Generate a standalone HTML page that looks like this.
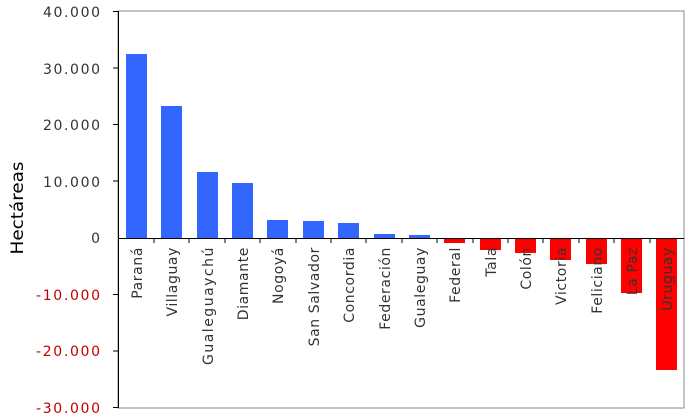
<!DOCTYPE html>
<html><head><meta charset="utf-8"><style>body{margin:0;background:#fff}</style></head><body>
<svg width="690" height="415" xmlns="http://www.w3.org/2000/svg" font-family="DejaVu Sans, sans-serif">
<rect x="118" y="11" width="566" height="397" fill="none" stroke="#888" stroke-width="1"/>
<line x1="118.5" y1="11" x2="118.5" y2="408" stroke="#000"/>
<g stroke="#000">
<line x1="113" y1="11.5" x2="118" y2="11.5"/><line x1="113" y1="68" x2="118" y2="68"/><line x1="113" y1="124.5" x2="118" y2="124.5"/><line x1="113" y1="181" x2="118" y2="181"/><line x1="113" y1="351" x2="118" y2="351"/><line x1="113" y1="294.5" x2="118" y2="294.5"/><line x1="113" y1="407.5" x2="118" y2="407.5"/>
</g>
<g font-size="14" text-anchor="end">
<text x="100" y="17" fill="#333" textLength="57" lengthAdjust="spacing">40.000</text>
<text x="100" y="74" fill="#333" textLength="57" lengthAdjust="spacing">30.000</text>
<text x="100" y="130" fill="#333" textLength="57" lengthAdjust="spacing">20.000</text>
<text x="100" y="187" fill="#333" textLength="57" lengthAdjust="spacing">10.000</text>
<text x="100" y="243" fill="#333">0</text>
<text x="100" y="300" fill="#c00000" textLength="64" lengthAdjust="spacing">-10.000</text>
<text x="100" y="356" fill="#c00000" textLength="64" lengthAdjust="spacing">-20.000</text>
<text x="100" y="413" fill="#c00000" textLength="64" lengthAdjust="spacing">-30.000</text>
</g>
<text transform="translate(23,208) rotate(-90)" font-size="17" text-anchor="middle" fill="#000" textLength="93" lengthAdjust="spacingAndGlyphs">Hectáreas</text>
<g fill="#3366ff">
<rect x="126" y="54" width="21" height="184"/>
<rect x="161" y="106" width="21" height="132"/>
<rect x="197" y="172" width="21" height="66"/>
<rect x="232" y="183" width="21" height="55"/>
<rect x="267" y="220" width="21" height="18"/>
<rect x="303" y="221" width="21" height="17"/>
<rect x="338" y="223" width="21" height="15"/>
<rect x="374" y="234" width="21" height="4"/>
<rect x="409" y="235" width="21" height="3"/>
</g>
<g fill="#ff0000">
<rect x="444" y="238" width="21" height="5"/>
<rect x="480" y="238" width="21" height="12"/>
<rect x="515" y="238" width="21" height="15"/>
<rect x="550" y="238" width="21" height="22"/>
<rect x="586" y="238" width="21" height="26"/>
<rect x="621" y="238" width="21" height="55"/>
<rect x="656" y="238" width="21" height="132"/>
</g>
<line x1="118" y1="238.5" x2="684" y2="238.5" stroke="#000"/>
<g stroke="#000">
<line x1="154" y1="238" x2="154" y2="243"/><line x1="189" y1="238" x2="189" y2="243"/><line x1="225" y1="238" x2="225" y2="243"/><line x1="260" y1="238" x2="260" y2="243"/><line x1="296" y1="238" x2="296" y2="243"/><line x1="331" y1="238" x2="331" y2="243"/><line x1="366" y1="238" x2="366" y2="243"/><line x1="402" y1="238" x2="402" y2="243"/><line x1="437" y1="238" x2="437" y2="243"/><line x1="473" y1="238" x2="473" y2="243"/><line x1="508" y1="238" x2="508" y2="243"/><line x1="543" y1="238" x2="543" y2="243"/><line x1="579" y1="238" x2="579" y2="243"/><line x1="614" y1="238" x2="614" y2="243"/><line x1="650" y1="238" x2="650" y2="243"/>
</g>
<g font-size="14" letter-spacing="0.6" text-anchor="end" fill="#333">
<text transform="translate(142,247) rotate(-90)">Paraná</text>
<text transform="translate(177,247) rotate(-90)">Villaguay</text>
<text transform="translate(213,247) rotate(-90)" textLength="118" lengthAdjust="spacing">Gualeguaychú</text>
<text transform="translate(248,247) rotate(-90)">Diamante</text>
<text transform="translate(283,247) rotate(-90)">Nogoyá</text>
<text transform="translate(319,247) rotate(-90)">San Salvador</text>
<text transform="translate(354,247) rotate(-90)">Concordia</text>
<text transform="translate(390,247) rotate(-90)">Federación</text>
<text transform="translate(425,247) rotate(-90)">Gualeguay</text>
<text transform="translate(460,247) rotate(-90)">Federal</text>
<text transform="translate(496,247) rotate(-90)">Tala</text>
<text transform="translate(531,247) rotate(-90)">Colón</text>
<text transform="translate(566,247) rotate(-90)">Victoria</text>
<text transform="translate(602,247) rotate(-90)">Feliciano</text>
<text transform="translate(637,247) rotate(-90)">La Paz</text>
<text transform="translate(672,247) rotate(-90)">Uruguay</text>
</g>
</svg>
</body></html>
